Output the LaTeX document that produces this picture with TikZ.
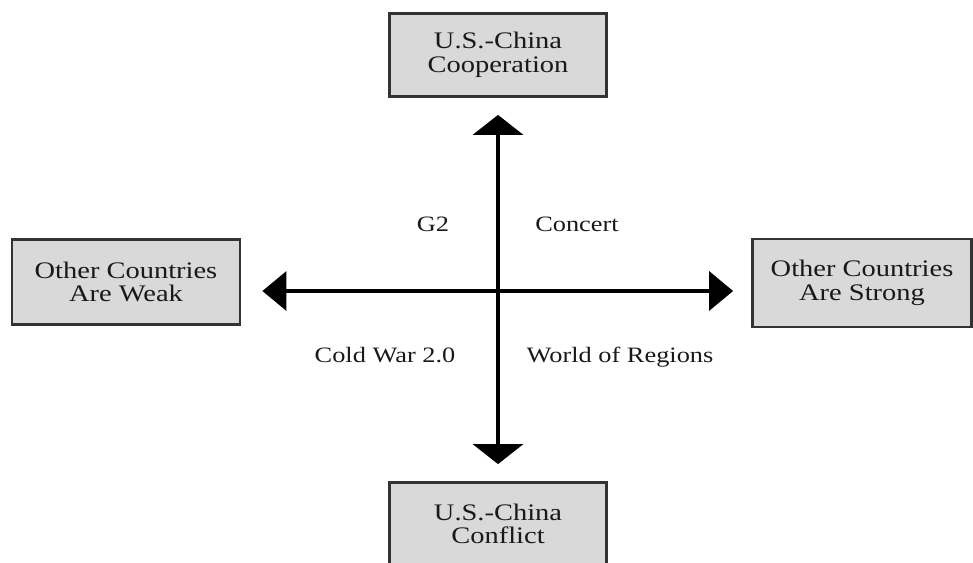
\documentclass[tikz,border=0pt]{standalone}
\usepackage{fontspec}
\setmainfont{Liberation Serif}[FakeStretch=1.2]
\usetikzlibrary{arrows.meta}

\begin{document}
\begin{tikzpicture}[x=0.02cm,y=-0.02cm,
  box/.style={draw=black!80,line width=1.6pt,fill=black!15,align=center,inner sep=0pt,
    text=black!90,font=\fontsize{13.5}{13.5}\selectfont},
  quad/.style={anchor=base,text=black!90,font=\fontsize{12.5}{12.5}\selectfont},
  vaxis/.style={line width=2.2pt,{Triangle[width=1cm,length=0.4cm]}-{Triangle[width=1cm,length=0.4cm]}},
  haxis/.style={line width=1.9pt,{Triangle[width=0.78cm,length=0.48cm]}-{Triangle[width=0.78cm,length=0.48cm]}}]
\useasboundingbox[fill=white] (0,0) rectangle (973,563);
\coordinate (mid) at (498,291);
\node[box,minimum width=4.34cm,minimum height=1.66cm] (coop) at (498,55) {U.S.-China\\Cooperation};
\node[box,minimum width=4.34cm,minimum height=1.66cm] (conflict) at (498,524) {U.S.-China\\Conflict};
\node[box,minimum width=4.56cm,minimum height=1.7cm] (weak) at (126,282) {Other Countries\\Are Weak};
\node[box,minimum width=4.38cm,minimum height=1.76cm] (strong) at (862,283) {Other Countries\\Are Strong};
\draw[vaxis,shorten <=0.34cm,shorten >=0.34cm] (coop) -- (conflict);
\draw[haxis,shorten <=0.42cm,shorten >=0.36cm] (weak.east |- mid) -- (strong.west |- mid);
\node[quad] (g2) at (433,232) {G2};
\node[quad] (concert) at (577,232) {Concert};
\node[quad] (coldwar) at (385,363) {Cold War 2.0};
\node[quad] (regions) at (620,363) {World of Regions};
\end{tikzpicture}
\end{document}
